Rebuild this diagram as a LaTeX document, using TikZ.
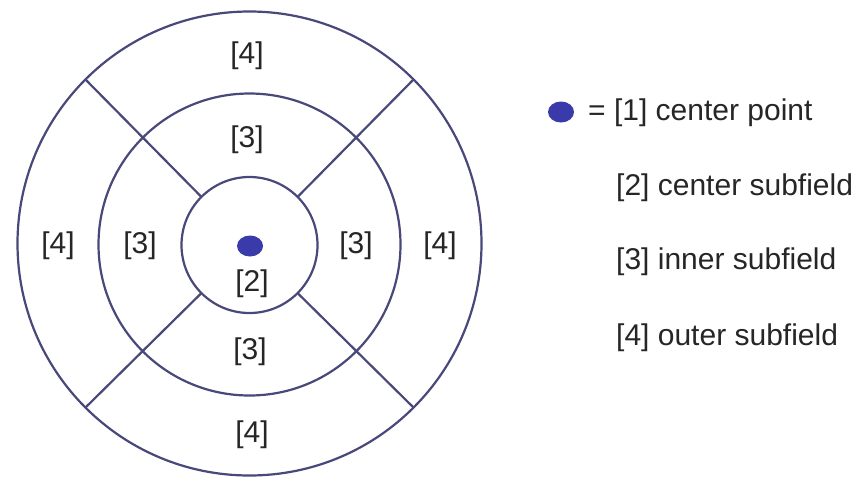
\documentclass[tikz,border=0pt]{standalone}
\usepackage{fontspec}
\setmainfont{Liberation Sans}
\usetikzlibrary{shapes.geometric}
\definecolor{linec}{RGB}{72,72,122}
\definecolor{dotc}{RGB}{58,58,170}
\definecolor{txtc}{RGB}{38,38,38}
\begin{document}
\begin{tikzpicture}[x=1pt,y=-1pt,
  ring/.style={circle,draw=linec,line width=2.2pt,inner sep=0pt,outer sep=0pt,minimum size=#1},
  spoke/.style={draw=linec,line width=2.2pt},
  lbl/.style={font=\fontsize{30}{36}\selectfont,text=txtc,inner sep=0pt},
  bluedot/.style={ellipse,fill=dotc,minimum width=26pt,minimum height=21pt,inner sep=0pt}]
\useasboundingbox[fill=white] (0,0) rectangle (861,477);
% rings
\node[ring=464pt] (outer) at (249.5,243.5) {};
\node[ring=302pt] (middle) at (249.5,244.5) {};
\node[ring=136pt] (inner) at (249.5,245) {};
% spokes
\draw[spoke] (inner.45) -- (outer.45);
\draw[spoke] (inner.135) -- (outer.135);
\draw[spoke] (inner.225) -- (outer.225);
\draw[spoke] (inner.315) -- (outer.315);
% center point
\node[bluedot] (cp) at (250,246) {};
% labels
\node[lbl] (o1) at (247,56) {[4]};
\node[lbl] (o2) at (58,246) {[4]};
\node[lbl] (o3) at (440,246) {[4]};
\node[lbl] (o4) at (252,435) {[4]};
\node[lbl] (i1) at (247,140) {[3]};
\node[lbl] (i2) at (140,246) {[3]};
\node[lbl] (i3) at (356,246) {[3]};
\node[lbl] (i4) at (250,352) {[3]};
\node[lbl] (c2) at (252,284) {[2]};
% legend
\node[bluedot] (ldot) at (561,112) {};
\node[lbl,anchor=west] (l1) at (588,113) {= [1] center point};
\node[lbl,anchor=west] (l2) at (616,188) {[2] center subfield};
\node[lbl,anchor=west] (l3) at (616,262) {[3] inner subfield};
\node[lbl,anchor=west] (l4) at (616,338) {[4] outer subfield};
\end{tikzpicture}
\end{document}
